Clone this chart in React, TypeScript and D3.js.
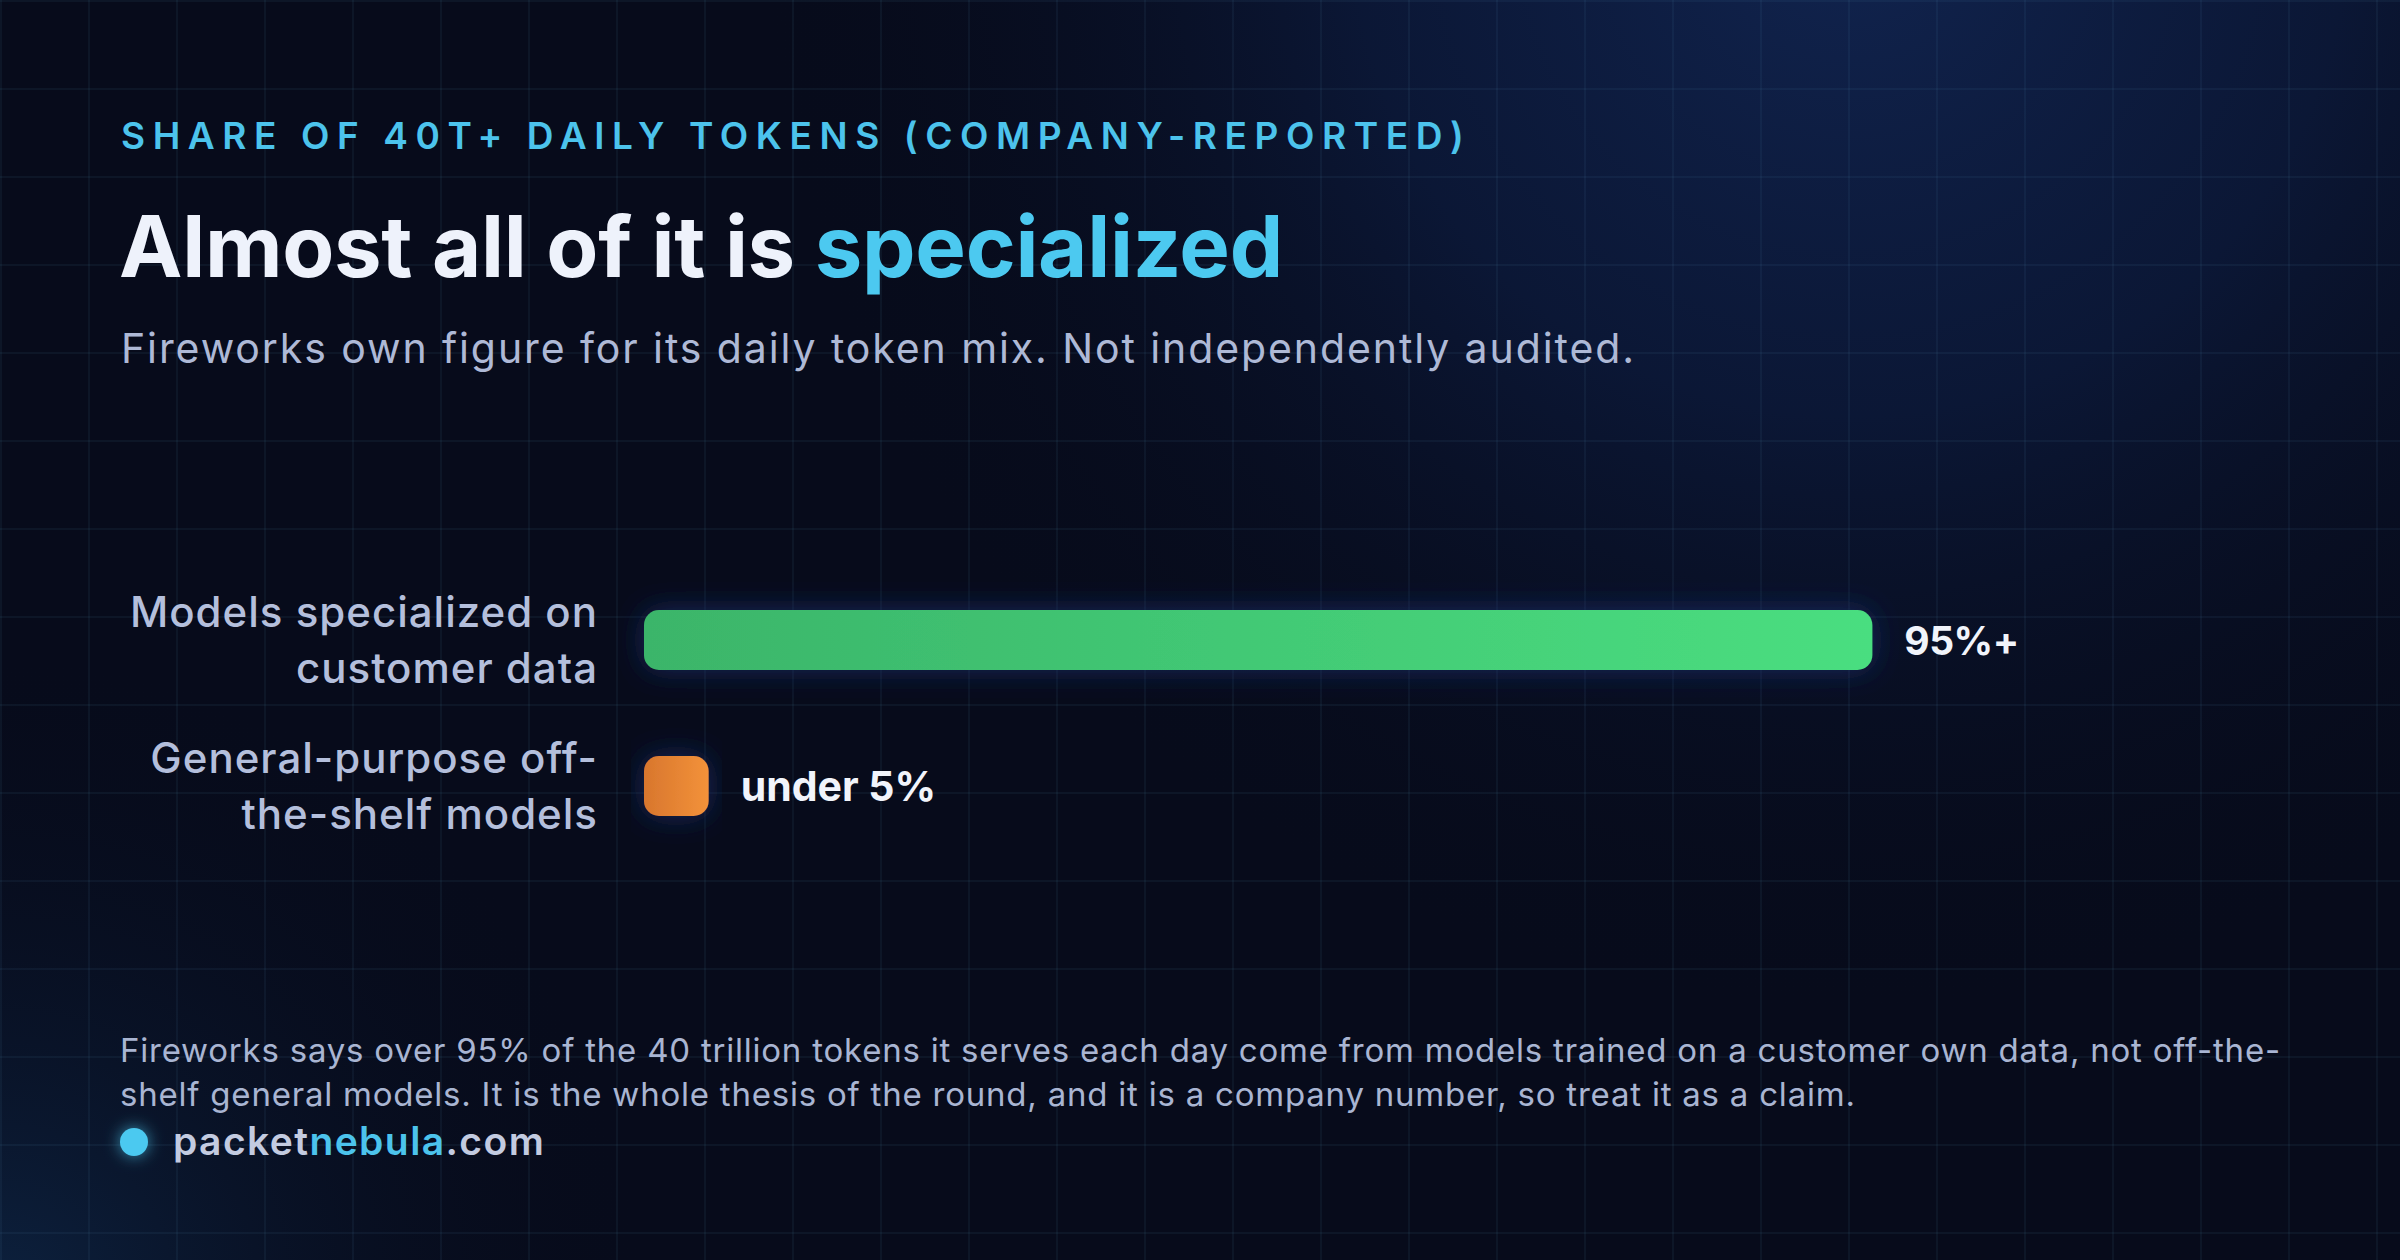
import React from "react";
import * as d3 from "d3";

const W = 2400;
const H = 1260;

const kicker = "SHARE OF 40T+ DAILY TOKENS (COMPANY-REPORTED)";
const titleMain = "Almost all of it is ";
const titleAccent = "specialized";
const subtitle = "Fireworks own figure for its daily token mix. Not independently audited.";

const categories = ["Models specialized on customer data", "General-purpose off-the-shelf models"];
const categoryLines = [
  ["Models specialized on", "customer data"],
  ["General-purpose off-", "the-shelf models"],
];
const values = [95, 5];
const valueLabels = ["95%+", "under 5%"];
const barGradients = [
  ["#3bb56a", "#4ade80"],
  ["#d8762d", "#f3923a"],
];

const noteLines = [
  "Fireworks says over 95% of the 40 trillion tokens it serves each day come from models trained on a customer own data, not off-the-",
  "shelf general models. It is the whole thesis of the round, and it is a company number, so treat it as a claim.",
];
const brandParts = [
  { text: "packet", accent: false },
  { text: "nebula", accent: true },
  { text: ".com", accent: false },
];

const FONT = "Inter, 'Noto Sans', sans-serif";

export default function App() {
  const x = d3.scaleLinear().domain([0, 100]).range([644, 1937]);
  const y = d3.scalePoint<string>().domain(categories).range([640, 786]);
  const barH = 60;

  const gridX = d3.range(1, W, 88);
  const gridY = d3.range(1, H, 88);

  return (
    <div style={{ position: "fixed", left: 0, top: 0, width: W, height: H }}>
      <svg width={W} height={H} style={{ display: "block" }}>
        <defs>
          <radialGradient id="glowTR" cx="1850" cy="-80" r="1100" gradientUnits="userSpaceOnUse">
            <stop offset="0" stopColor="#11244f" stopOpacity="1" />
            <stop offset="0.45" stopColor="#0c1a3c" stopOpacity="0.8" />
            <stop offset="1" stopColor="#070b1b" stopOpacity="0" />
          </radialGradient>
          <radialGradient id="glowBL" cx="0" cy="1300" r="650" gradientUnits="userSpaceOnUse">
            <stop offset="0" stopColor="#0f2b4e" stopOpacity="0.7" />
            <stop offset="1" stopColor="#070b1b" stopOpacity="0" />
          </radialGradient>
          {barGradients.map((g, i) => (
            <linearGradient key={i} id={`bar${i}`} x1="0" x2="1" y1="0" y2="0">
              <stop offset="0" stopColor={g[0]} />
              <stop offset="1" stopColor={g[1]} />
            </linearGradient>
          ))}
          <filter id="barGlow" x="-20%" y="-100%" width="140%" height="300%">
            <feDropShadow dx="0" dy="0" stdDeviation="14" floodColor="#1a3677" floodOpacity="0.7" />
          </filter>
          <filter id="dotGlow" x="-200%" y="-200%" width="500%" height="500%">
            <feDropShadow dx="0" dy="0" stdDeviation="8" floodColor="#4cc9f0" floodOpacity="0.7" />
          </filter>
        </defs>

        <rect x={0} y={0} width={W} height={H} fill="#070b1b" />
        <rect x={0} y={0} width={W} height={H} fill="url(#glowTR)" />
        <rect x={0} y={0} width={W} height={H} fill="url(#glowBL)" />

        <g stroke="#5f8fb8" strokeOpacity={0.11} strokeWidth={1.5}>
          {gridX.map((gx) => (
            <line key={`gx${gx}`} x1={gx} x2={gx} y1={0} y2={H} />
          ))}
          {gridY.map((gy) => (
            <line key={`gy${gy}`} x1={0} x2={W} y1={gy} y2={gy} />
          ))}
        </g>

        <text x={121} y={149} fill="#4cc3ec" fontFamily={FONT} fontWeight={600} fontSize={37} letterSpacing={7.6}>
          {kicker}
        </text>

        <text x={119} y={277} fontFamily={FONT} fontWeight={700} fontSize={85} letterSpacing={-0.3}>
          <tspan fill="#eef2fb">{titleMain}</tspan>
          <tspan fill="#4cc9f0">{titleAccent}</tspan>
        </text>

        <text x={121} y={363} fill="#aeb9d6" fontFamily={FONT} fontWeight={400} fontSize={41} letterSpacing={1.9}>
          {subtitle}
        </text>

        {categories.map((c, i) => {
          const cy = y(c)!;
          return (
            <g key={c}>
              <text textAnchor="end" fill="#b4bfdc" fontFamily={FONT} fontWeight={500} fontSize={42} letterSpacing={1}>
                <tspan x={598} y={cy - 13}>{categoryLines[i][0]}</tspan>
                <tspan x={598} y={cy + 43}>{categoryLines[i][1]}</tspan>
              </text>
              <rect
                x={x(0)}
                y={cy - barH / 2}
                width={x(values[i]) - x(0)}
                height={barH}
                rx={15}
                fill={`url(#bar${i})`}
                filter="url(#barGlow)"
              />
              <text
                x={x(values[i]) + 32}
                y={cy + 15}
                fill="#f1f4fb"
                fontFamily={FONT}
                fontWeight={700}
                fontSize={i === 0 ? 39 : 41}
                letterSpacing={i === 0 ? -0.5 : 0}
              >
                {valueLabels[i]}
              </text>
            </g>
          );
        })}

        <g fill="#a9b5d2" fontFamily={FONT} fontWeight={400} fontSize={33} letterSpacing={0.78}>
          {noteLines.map((l, i) => (
            <text key={i} x={120} y={1062 + i * 44}>
              {l}
            </text>
          ))}
        </g>

        <circle cx={134} cy={1142} r={14} fill="#4cc9f0" filter="url(#dotGlow)" />
        <text x={173} y={1155} fontFamily={FONT} fontWeight={600} fontSize={39} letterSpacing={1.4}>
          {brandParts.map((p, i) => (
            <tspan key={i} fill={p.accent ? "#4cc3ec" : "#c3cbe0"}>
              {p.text}
            </tspan>
          ))}
        </text>
      </svg>
    </div>
  );
}
